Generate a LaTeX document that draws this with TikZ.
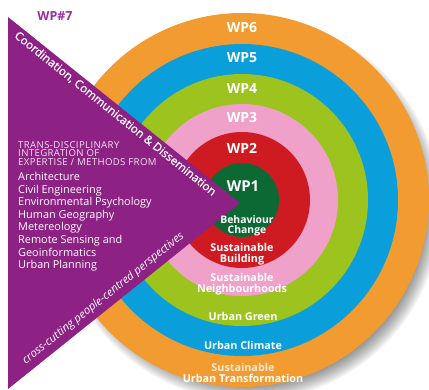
\documentclass[tikz,border=0pt]{standalone}
\usepackage{fontspec}
\setmainfont{Open Sans}
\newfontfamily\medfont[FakeBold=0.8]{Open Sans}
\newfontfamily\hdrfont[LetterSpace=4]{Open Sans}
\usetikzlibrary{calc}
\definecolor{cOrange}{HTML}{F29B30}
\definecolor{cBlue}{HTML}{0A9FDB}
\definecolor{cLime}{HTML}{9CC31E}
\definecolor{cPink}{HTML}{F0A1C9}
\definecolor{cRed}{HTML}{CE1B22}
\definecolor{cDark}{HTML}{0C6934}
\definecolor{cPurple}{HTML}{8D2284}
\definecolor{cWPseven}{HTML}{9A2C9C}
\definecolor{cCream}{HTML}{FCE9CF}
\tikzset{
  wplabel/.style={text=white, font=\fontsize{14}{14}\selectfont\bfseries, inner sep=0pt},
  ringtext/.style={text=white, font=\fontsize{10.8}{10.6}\selectfont\bfseries, align=center, inner sep=0pt},
  edgetext/.style={text=white, inner sep=0pt},
  listtext/.style={text=white, anchor=north west, align=left, inner sep=0pt}
}
\begin{document}
\begin{tikzpicture}[x=1pt,y=-1pt]
\useasboundingbox (0,0) rectangle (429,389);
\coordinate (c) at (242,200);
\coordinate (cs) at (249,209);
% soft shadow
\foreach \i in {0,...,13}{
  \fill[black, opacity=0.04] (cs) circle ({192pt-\i*1.3pt});
}
\fill[cOrange] (c) circle (187pt);
\fill[cBlue] (c) circle (156pt);
\fill[cLime] (c) circle (126pt);
\fill[cPink] (c) circle (96pt);
\fill[cRed] (c) circle (68pt);
\fill[cDark] (c) circle (37pt);
% triangle
\coordinate (t1) at (8,17);
\coordinate (t2) at (240,203);
\coordinate (t3) at (8,389);
\fill[cPurple] (t1) -- (t2) -- (t3) -- cycle;
% ring labels
\node[wplabel] (wp6) at (242,28) {WP6};
\node[wplabel] (wp5) at (242,58) {WP5};
\node[wplabel] (wp4) at (242,88) {WP4};
\node[wplabel] (wp3) at (242,117) {WP3};
\node[wplabel] (wp2) at (242,148) {WP2};
\node[wplabel, font=\fontsize{15}{15}\selectfont\bfseries] (wp1) at (243,186) {WP1};
\node[ringtext, font=\fontsize{10.4}{10.2}\selectfont\bfseries] (l1) at (247,226) {Behaviour\\Change};
\node[ringtext] (l2) at (242,254) {Sustainable\\Building};
\node[ringtext] (l3) at (242,284) {Sustainable\\Neighbourhoods};
\node[ringtext] (l4) at (243,316) {Urban Green};
\node[ringtext] (l5) at (243,345) {Urban Climate};
\node[ringtext] (l6) at (243,373) {\textcolor{cCream}{Sustainable}\\Urban Transformation};
% WP7
\node[text=cWPseven, font=\fontsize{12.5}{13}\selectfont\bfseries, inner sep=0pt] (wp7) at (55,16) {WP\#7};
% edge texts
\path (t1) -- (t2) node[pos=0.485, sloped, below=3pt, edgetext, font=\fontsize{11.6}{11}\medfont] (coord) {Coordination, Communication \& Dissemination};
\path (t3) -- (t2) node[pos=0.44, sloped, above=5pt, edgetext, font=\fontsize{11.2}{11}\selectfont\itshape] (cross) {cross-cutting people-centred perspectives};
% left text block
\node[listtext, text=white!88!cPurple, font=\hdrfont\fontsize{9.6}{8.6}\selectfont] (hdr) at (18,141) {TRANS-DISCIPLINARY\\INTEGRATION OF\\EXPERTISE / METHODS FROM};
\node[listtext, font=\fontsize{10.9}{12.6}\selectfont] (list) at (18,172) {Architecture\\Civil Engineering\\Environmental Psychology\\Human Geography\\Metereology\\Remote Sensing and\\Geoinformatics\\Urban Planning};
\end{tikzpicture}
\end{document}
